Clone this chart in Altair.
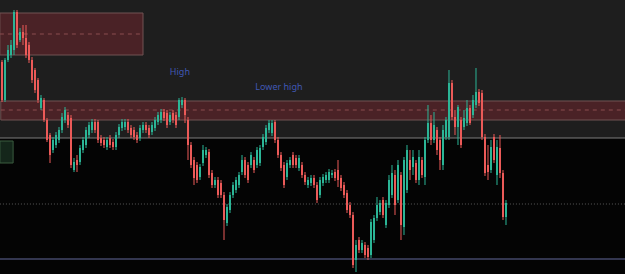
import altair as alt
import pandas as pd

# ---- candle data (price units) ----
opens = [212,174,214,219,224,262,234,242,236,229,
         214,204,194,166,174,154,139,124,129,134,
         144,154,159,156,104,114,112,124,129,139,
         144,152,152,136,134,127,136,132,127,139,
         146,147,152,146,144,139,136,144,149,146,
         142,146,152,154,162,161,152,161,159,157,
         169,174,154,129,114,109,97,111,119,122,
         101,89,94,91,79,51,64,79,84,89,
         102,114,109,109,114,109,111,127,132,144,
         141,152,134,119,109,97,109,119,116,106,
         109,99,89,91,96,89,79,91,94,94,
         99,102,104,96,89,81,69,59,14,34,
         24,29,26,19,34,56,62,74,49,69,
         79,99,74,99,47,84,114,107,111,94,
         114,97,134,151,134,144,134,109,137,137,
         191,157,147,154,147,151,166,159,169,182,
         181,137,109,104,137,99,126,101,57]
closes = [174,214,224,229,262,229,242,236,219,214,
          194,184,174,176,154,134,119,134,139,144,
          157,164,149,109,112,109,126,134,144,149,
          152,144,134,131,129,134,129,127,139,147,
          152,152,144,139,137,134,146,149,144,139,
          149,154,159,162,156,149,159,154,149,174,
          174,159,129,109,96,94,107,124,124,99,
          89,94,79,79,54,67,79,89,94,99,
          114,99,94,119,104,124,126,137,146,151,
          151,134,119,106,89,111,114,109,109,116,
          99,92,94,96,89,74,94,97,99,102,
          101,96,94,86,79,64,59,9,29,24,
          31,19,17,52,56,69,71,59,71,94,
          101,69,109,49,114,124,104,117,94,117,
          99,134,151,134,149,124,114,144,154,191,
          157,147,167,129,156,166,151,174,182,171,
          137,101,102,127,114,127,101,57,71]
highs = [214,216,229,234,264,264,246,249,249,232,
         217,206,196,179,176,156,141,137,142,147,
         161,167,162,159,116,119,129,137,147,152,
         155,155,154,139,137,137,139,135,142,150,
         155,155,155,149,147,142,149,152,152,149,
         152,157,162,165,165,164,162,164,162,176,
         177,176,157,132,117,112,110,129,127,125,
         104,97,97,94,82,70,82,92,97,102,
         119,117,112,122,117,127,129,140,149,154,
         154,154,137,122,112,114,117,122,119,119,
         112,102,97,99,99,92,97,100,102,105,
         104,105,114,99,92,84,72,62,34,37,
         34,32,29,55,59,77,74,77,74,99,
         109,104,114,102,117,129,124,124,114,124,
         117,137,169,159,162,147,137,149,157,204,
         194,164,169,157,164,174,169,179,206,185,
         184,140,129,134,140,134,139,104,74]
lows = [172,172,212,216,219,226,232,229,216,211,
        191,181,171,164,152,132,111,121,126,131,
        141,151,146,106,102,102,109,121,126,136,
        141,141,131,128,126,124,126,124,124,136,
        143,144,141,136,134,131,133,141,141,136,
        139,143,149,151,153,146,149,151,146,154,
        166,151,114,106,89,91,94,108,116,96,
        86,86,76,76,34,48,61,76,81,86,
        99,96,91,106,101,106,108,124,129,141,
        138,131,116,103,86,94,106,106,106,103,
        96,89,86,88,86,71,76,88,91,91,
        96,93,87,83,76,61,56,6,2,21,
        21,16,14,16,31,53,59,56,46,66,
        76,59,71,34,39,81,94,99,91,89,
        96,89,131,129,131,119,104,104,134,134,
        154,139,129,126,144,148,149,156,166,168,
        134,98,94,101,111,89,96,54,49]

# ---- annotation levels (price units / bar index) ----
zone_top = [261, 173]
zone_bottom = [219, 154]
zone_mid = [240, 164]
zone_start = [-0.7, -0.4]
zone_end = [47, 215]

session_level = 136
dotted_level = 70
blue_level = 15
chart_top = 274

box_start, box_end = [-0.7], [3.7]
box_top, box_bottom = [133], [111]

label_text = ["High", "Lower high"]
label_idx = [59.3, 92.3]
label_price = [202, 187]

GREEN = "#2bb596"
RED = "#ec5a58"

df = pd.DataFrame({"i": list(range(len(opens))), "open": opens, "close": closes,
                   "high": highs, "low": lows})

xsc = alt.Scale(domain=[-0.6667, 207.6667], nice=False, zero=False, padding=0)
ysc = alt.Scale(domain=[0, 274], nice=False, zero=False, padding=0)

def X(f):
    return alt.X(f, type="quantitative", scale=xsc, axis=None)

def Y(f):
    return alt.Y(f, type="quantitative", scale=ysc, axis=None)

color = alt.condition("datum.close >= datum.open", alt.value(GREEN), alt.value(RED))

bg = alt.Chart(pd.DataFrame({"x0": [-0.7], "x1": [210], "y0": [session_level], "y1": [chart_top]})).mark_rect(
    fill="#1e1e1e", clip=True).encode(x=X("x0"), x2="x1", y=Y("y0"), y2="y1")

zones_df = pd.DataFrame({"x0": zone_start, "x1": zone_end, "top": zone_top,
                         "bottom": zone_bottom, "mid": zone_mid})
zones = alt.Chart(zones_df).mark_rect(fill="#4a2226", stroke="#705252", strokeWidth=1, clip=True).encode(
    x=X("x0"), x2="x1", y=Y("bottom"), y2="top")
mids = alt.Chart(zones_df).mark_rule(color="#8a4c4e", strokeDash=[4, 4], strokeWidth=1, clip=True).encode(
    x=X("x0"), x2="x1", y=Y("mid"))

session = alt.Chart(pd.DataFrame({"x0": [-0.7], "x1": [210], "y": [session_level]})).mark_rule(
    color="#7c7c7c", strokeWidth=1, clip=True).encode(x=X("x0"), x2="x1", y=Y("y"))
dotted = alt.Chart(pd.DataFrame({"x0": [-0.7], "x1": [210], "y": [dotted_level]})).mark_rule(
    color="#5a5a5a", strokeDash=[1, 2], strokeWidth=1, clip=True).encode(x=X("x0"), x2="x1", y=Y("y"))
blue = alt.Chart(pd.DataFrame({"x0": [-0.7], "x1": [210], "y": [blue_level]})).mark_rule(
    color="#62689a", strokeWidth=1, clip=True).encode(x=X("x0"), x2="x1", y=Y("y"))

box = alt.Chart(pd.DataFrame({"x0": box_start, "x1": box_end, "t": box_top, "b": box_bottom})).mark_rect(
    fill="#14261a", stroke="#3a5c3e", strokeWidth=1, clip=True).encode(x=X("x0"), x2="x1", y=Y("b"), y2="t")

wicks = alt.Chart(df).mark_rule(strokeWidth=1).encode(x=X("i"), y=Y("low"), y2="high", color=color)
bodies = alt.Chart(df).mark_bar(size=2).encode(x=X("i"), y=Y("open"), y2="close", color=color)

labels = alt.Chart(pd.DataFrame({"t": label_text, "x": label_idx, "y": label_price})).mark_text(
    font="Noto Sans", fontSize=9, color="#4058b4", align="center", baseline="middle").encode(
    x=X("x"), y=Y("y"), text="t:N")

chart = alt.layer(bg, zones, mids, session, dotted, blue, box, wicks, bodies, labels).properties(
    width=625, height=274, background="#040404", padding=0, autosize="none"
).configure_view(stroke=None)

chart.save("out.html", embed_options={"renderer": "svg", "actions": False})
